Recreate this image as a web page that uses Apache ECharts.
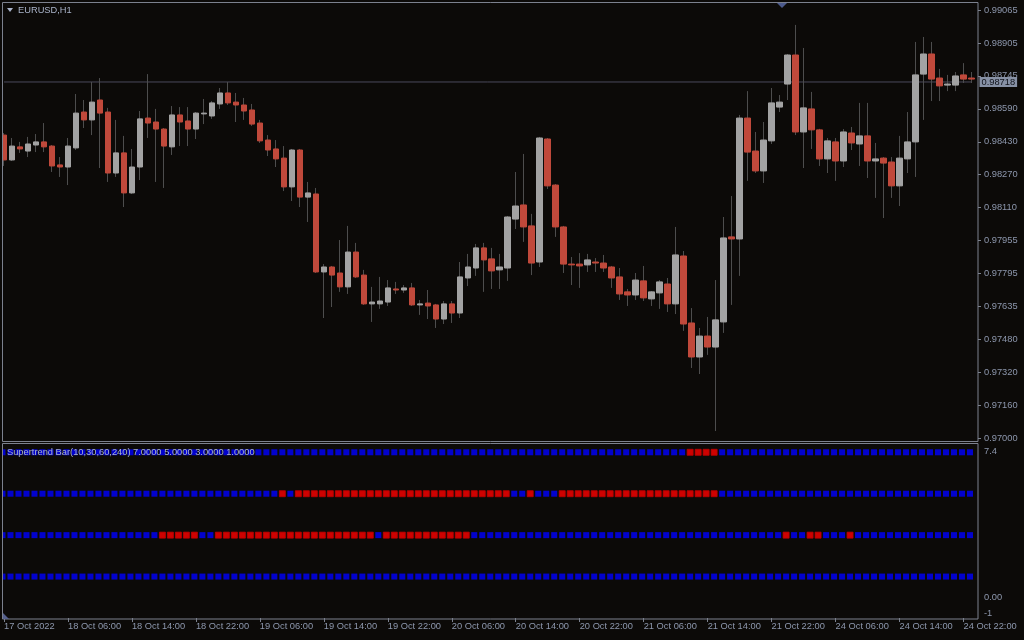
<!DOCTYPE html>
<html>
<head>
<meta charset="utf-8">
<style>
html,body{margin:0;padding:0;background:#0c0a08;}
#chart{width:1024px;height:640px;}
</style>
<script src="https://cdn.jsdelivr.net/npm/echarts@6/dist/echarts.min.js"></script>
</head>
<body>
<div id="chart"></div>
<script>
// ---------- DATA ----------
const symbolTitle = 'EURUSD,H1';
const indicatorTitle = 'Supertrend Bar(10,30,60,240) 7.0000 5.0000 3.0000 1.0000';
const currentPrice = 0.98718;
const currentPriceLabel = '0.98718';

const priceTickLabels = ['0.97000','0.97160','0.97320','0.97480','0.97635','0.97795','0.97955','0.98110','0.98270','0.98430','0.98590','0.98745','0.98905','0.99065'];
const timeTickLabels = ['17 Oct 2022','18 Oct 06:00','18 Oct 14:00','18 Oct 22:00','19 Oct 06:00','19 Oct 14:00','19 Oct 22:00','20 Oct 06:00','20 Oct 14:00','20 Oct 22:00','21 Oct 06:00','21 Oct 14:00','21 Oct 22:00','24 Oct 06:00','24 Oct 14:00','24 Oct 22:00'];

const open = [0.98462,0.98342,0.98405,0.98385,0.98414,0.98429,0.98409,0.98318,0.98308,0.98400,
0.98573,0.98535,0.98631,0.98573,0.98279,0.98376,0.98183,0.98308,0.98544,0.98525,
0.98491,0.98405,0.98559,0.98530,0.98491,0.98564,0.98554,0.98612,0.98665,0.98621,
0.98607,0.98583,0.98520,0.98438,0.98395,0.98351,0.98212,0.98390,0.98163,0.98178,
0.97802,0.97826,0.97797,0.97730,0.97898,0.97787,0.97648,0.97648,0.97657,0.97720,
0.97715,0.97725,0.97643,0.97652,0.97643,0.97575,0.97648,0.97604,0.97773,0.97821,
0.97918,0.97865,0.97812,0.97821,0.98057,0.98125,0.98024,0.97850,0.98443,0.98221,
0.98019,0.97840,0.97840,0.97836,0.97850,0.97845,0.97826,0.97778,0.97706,0.97691,
0.97759,0.97672,0.97701,0.97744,0.97648,0.97879,0.97556,0.97392,0.97493,0.97440,
0.97561,0.97971,0.97961,0.98544,0.98385,0.98289,0.98434,0.98597,0.98708,0.98848,
0.98477,0.98588,0.98487,0.98347,0.98429,0.98337,0.98472,0.98419,0.98458,0.98337,
0.98351,0.98332,0.98217,0.98347,0.98429,0.98756,0.98853,0.98737,0.98703,0.98703,
0.98752,0.98737];
const high = [0.98472,0.98448,0.98429,0.98453,0.98467,0.98520,0.98414,0.98356,0.98448,0.98660,
0.98631,0.98718,0.98737,0.98593,0.98535,0.98458,0.98395,0.98578,0.98756,0.98588,
0.98496,0.98602,0.98597,0.98597,0.98573,0.98636,0.98626,0.98689,0.98718,0.98665,
0.98641,0.98612,0.98535,0.98462,0.98438,0.98409,0.98395,0.98395,0.98236,0.98207,
0.97840,0.97831,0.97956,0.98024,0.97942,0.97812,0.97730,0.97778,0.97763,0.97754,
0.97739,0.97749,0.97667,0.97715,0.97648,0.97662,0.97662,0.97850,0.97889,0.97937,
0.97942,0.97918,0.97889,0.98072,0.98284,0.98371,0.98082,0.98453,0.98448,0.98226,
0.98024,0.97874,0.97893,0.97889,0.97869,0.97884,0.97831,0.97821,0.97720,0.97797,
0.97831,0.97710,0.97763,0.97773,0.98019,0.97903,0.97628,0.97532,0.97585,0.97763,
0.98067,0.98168,0.98559,0.98674,0.98477,0.98525,0.98689,0.98655,0.98853,0.98993,
0.98882,0.98670,0.98492,0.98448,0.98448,0.98491,0.98501,0.98617,0.98617,0.98424,
0.98356,0.98356,0.98458,0.98573,0.98911,0.98935,0.98911,0.98781,0.98752,0.98766,
0.98809,0.98766];
const low = [0.98313,0.98337,0.98376,0.98356,0.98380,0.98380,0.98284,0.98260,0.98221,0.98390,
0.98496,0.98462,0.98303,0.98236,0.98260,0.98115,0.98178,0.98245,0.98448,0.98236,
0.98207,0.98366,0.98409,0.98409,0.98443,0.98515,0.98540,0.98588,0.98607,0.98525,
0.98535,0.98506,0.98424,0.98361,0.98308,0.98192,0.98144,0.98115,0.98043,0.97797,
0.97580,0.97633,0.97706,0.97696,0.97773,0.97643,0.97561,0.97624,0.97638,0.97696,
0.97701,0.97638,0.97595,0.97575,0.97532,0.97551,0.97556,0.97580,0.97734,0.97783,
0.97706,0.97720,0.97720,0.97759,0.98009,0.97947,0.97787,0.97826,0.98202,0.97971,
0.97797,0.97739,0.97725,0.97802,0.97802,0.97802,0.97725,0.97667,0.97638,0.97667,
0.97662,0.97638,0.97624,0.97609,0.97599,0.97518,0.97339,0.97310,0.97402,0.97035,
0.97508,0.97643,0.97783,0.98241,0.98279,0.98231,0.98419,0.98573,0.98631,0.98462,
0.98303,0.98395,0.98313,0.98279,0.98241,0.98308,0.98390,0.98313,0.98255,0.98159,
0.98062,0.98159,0.98120,0.98279,0.98260,0.98535,0.98626,0.98626,0.98674,0.98674,
0.98713,0.98713];
const close = [0.98342,0.98409,0.98395,0.98419,0.98429,0.98405,0.98313,0.98308,0.98409,0.98568,
0.98535,0.98621,0.98568,0.98279,0.98376,0.98183,0.98308,0.98540,0.98520,0.98491,
0.98409,0.98559,0.98525,0.98491,0.98568,0.98568,0.98617,0.98665,0.98617,0.98607,
0.98578,0.98515,0.98434,0.98390,0.98347,0.98212,0.98390,0.98163,0.98183,0.97802,
0.97826,0.97787,0.97730,0.97898,0.97778,0.97648,0.97657,0.97662,0.97725,0.97715,
0.97725,0.97643,0.97648,0.97638,0.97575,0.97648,0.97604,0.97778,0.97826,0.97918,
0.97860,0.97807,0.97826,0.98067,0.98120,0.98019,0.97845,0.98448,0.98217,0.98019,
0.97840,0.97836,0.97831,0.97860,0.97845,0.97821,0.97773,0.97696,0.97691,0.97763,
0.97677,0.97706,0.97754,0.97648,0.97884,0.97551,0.97392,0.97493,0.97440,0.97571,
0.97966,0.97961,0.98544,0.98380,0.98289,0.98438,0.98617,0.98621,0.98848,0.98477,
0.98593,0.98487,0.98347,0.98434,0.98337,0.98477,0.98424,0.98458,0.98337,0.98347,
0.98327,0.98217,0.98351,0.98429,0.98752,0.98853,0.98732,0.98699,0.98708,0.98747,
0.98732,0.98732];

// Supertrend bar rows (levels) and the bar-index ranges drawn red (down); all other bars blue (up)
const stLevels = [7, 5, 3, 1];
const stRedRanges = [
  [[86, 89]],
  [[35, 35], [37, 63], [66, 66], [70, 89]],
  [[20, 24], [27, 46], [48, 58], [98, 98], [101, 102], [106, 106]],
  []
];

// hourly bar times (weekend skipped)
const categories = [];
(function () {
  const mon = ['Jan','Feb','Mar','Apr','May','Jun','Jul','Aug','Sep','Oct','Nov','Dec'];
  let t = Date.UTC(2022, 9, 17, 22);
  while (categories.length < open.length) {
    const d = new Date(t);
    const wd = d.getUTCDay();
    if (wd !== 0 && wd !== 6) {
      categories.push(d.getUTCDate() + ' ' + mon[d.getUTCMonth()] + ' ' + String(d.getUTCHours()).padStart(2, '0') + ':00');
    }
    t += 3600000;
  }
})();

// ---------- BUILD ----------
const BG = '#0c0a08', FRAME = '#7c818e', TXT = '#8d97ad', TITLE = '#aab4ca';
const BULL = '#a3a3a3', BEAR = '#c0493b', WICK = '#4d4d4d';
const FONT = '"Liberation Sans", Arial, sans-serif';
const FS = 9.3;

const wickData = open.map((o, i) => [o, close[i], low[i], high[i]]);
const bodyData = open.map((o, i) => [o, close[i], Math.min(o, close[i]), Math.max(o, close[i])]);
const lastIdx = open.length - 1;

// one scatter series per supertrend row, colour per bar
const stSeries = stLevels.map((lv, r) => ({
  type: 'scatter', name: 'ST' + lv, xAxisIndex: 1, yAxisIndex: 1, z: 5,
  symbol: 'rect', symbolSize: 6, symbolOffset: [-1.5, 0], silent: true,
  data: open.map((_, k) => {
    const red = stRedRanges[r].some(([a, b]) => k >= a && k <= b);
    return {value: [k, lv], itemStyle: red ? {color: '#ff0000', borderColor: '#c00000', borderWidth: 1} : {color: '#0000ff'}};
  })
}));

function nearestPriceLabel(v) {
  let best = priceTickLabels[0], bd = Infinity;
  for (const s of priceTickLabels) {
    const d = Math.abs(parseFloat(s) - v);
    if (d < bd) { bd = d; best = s; }
  }
  return best;
}

const chart = echarts.init(document.getElementById('chart'), null, {renderer: 'canvas'});
chart.setOption({
  backgroundColor: BG,
  animation: false,
  textStyle: {fontFamily: FONT},
  grid: [
    {left: -0.5, top: 10, width: 976, height: 428.3},
    {left: -0.5, top: 444, width: 976, height: 174}
  ],
  xAxis: [
    {type: 'category', gridIndex: 0, data: categories, boundaryGap: true, show: false},
    {type: 'category', gridIndex: 1, data: categories, boundaryGap: true,
     axisLine: {show: false, onZero: false},
     axisTick: {show: true, alignWithLabel: true, interval: 7, length: 4, lineStyle: {color: FRAME}},
     axisLabel: {interval: 7, align: 'left', margin: 4, color: TXT, fontSize: FS, fontFamily: FONT, hideOverlap: false,
                 formatter: (v, i) => (i % 8 === 0 && timeTickLabels[i / 8]) ? timeTickLabels[i / 8] : ''},
     splitLine: {show: false}}
  ],
  yAxis: [
    {type: 'value', gridIndex: 0, position: 'right', offset: 2.5, min: 0.97, max: 0.99065, interval: 0.0015885,
     splitLine: {show: false}, axisLine: {show: false},
     axisTick: {show: true, length: 3, lineStyle: {color: FRAME}},
     axisLabel: {margin: 6, color: TXT, fontSize: FS, fontFamily: FONT, formatter: nearestPriceLabel}},
    {type: 'value', gridIndex: 1, position: 'right', offset: 2.5, min: -1, max: 7.4, interval: 1,
     splitLine: {show: false}, axisLine: {show: false}, axisTick: {show: false},
     axisLabel: {margin: 6, color: TXT, fontSize: FS, fontFamily: FONT,
       formatter: v => v === 7.4 ? '{t|7.4}' : (v === 0 ? '0.00' : (v === -1 ? '{b|-1}' : '')),
       rich: {t: {color: TXT, fontSize: FS, fontFamily: FONT, padding: [14, 0, 0, 0]},
              b: {color: TXT, fontSize: FS, fontFamily: FONT, padding: [0, 0, 10, 0]}}}}
  ],
  series: [
    {type: 'line', name: 'price', xAxisIndex: 0, yAxisIndex: 0, z: 1, silent: true,
     data: [[0, currentPrice], [lastIdx, currentPrice]],
     showSymbol: false, symbol: 'none', lineStyle: {color: '#4b4a5c', width: 1},
     endLabel: {show: true, distance: 8, formatter: currentPriceLabel, backgroundColor: '#8791a5',
                color: '#10121a', fontSize: FS, fontFamily: FONT, padding: [1, 2, 0, 2]}},
    {type: 'candlestick', name: 'wick', xAxisIndex: 0, yAxisIndex: 0, z: 2, data: wickData, barWidth: 1,
     itemStyle: {color: WICK, color0: WICK, borderColor: WICK, borderColor0: WICK, borderWidth: 1}},
    {type: 'candlestick', name: 'EURUSD', xAxisIndex: 0, yAxisIndex: 0, z: 3, data: bodyData, barWidth: 6,
     itemStyle: {color: BULL, color0: BEAR, borderColor: BULL, borderColor0: BEAR, borderWidth: 1}}
  ].concat(stSeries),
  graphic: [
    {type: 'rect', z: 99, silent: true, shape: {x: 0, y: 0, width: 2, height: 640}, style: {fill: BG}},
    {type: 'rect', z: 100, silent: true, shape: {x: 2.5, y: 2.5, width: 975.5, height: 439}, style: {fill: null, stroke: FRAME, lineWidth: 1}},
    {type: 'rect', z: 100, silent: true, shape: {x: 2.5, y: 443.5, width: 975.5, height: 175.5}, style: {fill: null, stroke: FRAME, lineWidth: 1}},
    {type: 'polygon', z: 100, silent: true, shape: {points: [[777, 3], [787, 3], [782, 8]]}, style: {fill: '#4c5a8c'}},
    {type: 'polygon', z: 100, silent: true, shape: {points: [[3, 613], [3, 619], [9, 619]]}, style: {fill: '#56608c'}},
    {type: 'polygon', z: 100, silent: true, shape: {points: [[7, 8], [13, 8], [10, 12]]}, style: {fill: TITLE}},
    {type: 'text', z: 101, silent: true, x: 18, y: 10,
     style: {text: symbolTitle, fill: TITLE, font: FS + 'px ' + FONT, verticalAlign: 'middle'}},
    {type: 'text', z: 101, silent: true, x: 7, y: 452,
     style: {text: indicatorTitle, fill: TITLE, font: FS + 'px ' + FONT, verticalAlign: 'middle'}}
  ]
});
</script>
</body>
</html>
